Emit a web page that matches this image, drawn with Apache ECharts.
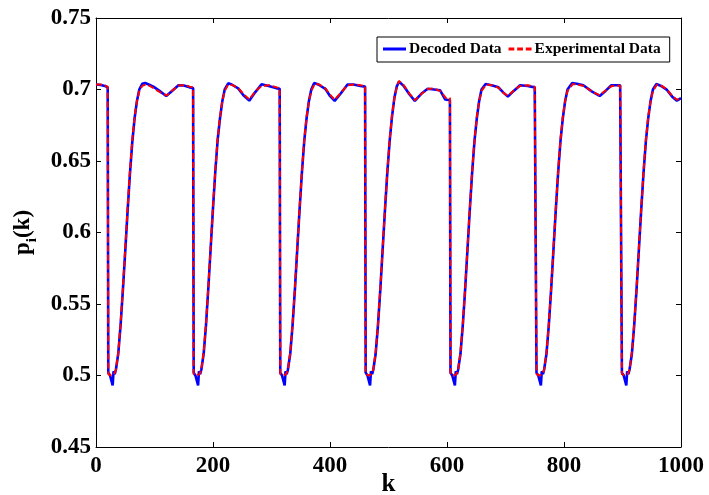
<!DOCTYPE html>
<html>
<head>
<meta charset="utf-8">
<script src="https://cdn.jsdelivr.net/npm/echarts@6/dist/echarts.min.js"></script>
<style>html,body{margin:0;padding:0;background:#fff}#c{width:709px;height:495px}</style>
</head>
<body>
<div id="c"></div>
<script>
// Decoded Data (blue solid)
const kDecoded = [
0,8,15,20,21,24,26.5,28.5,30,32,34,38,42,46,50,54,58,62,66,70,74,79,84,91,98,108,120,130,141,150,160,166,
167,170,172.5,174.5,176,178,180,184,188,192,196,200,204,208,212,216,220,226,232,243,252,262,272,283,295,309,314,
315,318,320.5,322.5,324,326,328,332,336,340,344,348,352,356,360,364,368,373,380,392,400,408,418,430,440,452,460,
461,464,466.5,468.5,470,472,474,478,482,486,490,494,498,502,506,510,514,518,526,536,545,556,567,578,588,597,605,
606,609,611.5,613.5,615,617,619,623,627,631,635,639,643,647,651,655,659,666,676,688,696,704,714,725,738,750,752,
753,756,758.5,760.5,762,764,766,770,774,778,782,786,790,794,798,802,806,814,822,833,848,861,871,881,896,898,
899,902,904.5,906.5,908,910,912,916,920,924,928,932,936,940,944,948,952,958,966,976,985,993,1000
];
const pDecoded = [
0.7035,0.7032,0.7025,0.7015,0.502,0.500,0.499,0.493,0.503,0.501,0.504,0.515,0.535,0.560,0.587,0.615,0.641,0.663,0.680,0.692,0.700,0.7040,0.7045,0.7033,0.7020,0.6992,0.6955,0.6990,0.7030,0.7028,0.7015,0.7010,
0.502,0.500,0.499,0.493,0.503,0.501,0.504,0.515,0.535,0.561,0.589,0.617,0.643,0.665,0.680,0.692,0.700,0.7043,0.7035,0.7008,0.6960,0.6922,0.6980,0.7036,0.7025,0.7008,0.7005,
0.502,0.500,0.499,0.493,0.503,0.501,0.504,0.515,0.535,0.560,0.588,0.616,0.642,0.664,0.680,0.692,0.700,0.7045,0.7035,0.7005,0.6955,0.6920,0.6970,0.7035,0.7035,0.7025,0.7020,
0.502,0.500,0.499,0.493,0.503,0.501,0.504,0.515,0.535,0.560,0.588,0.616,0.642,0.664,0.681,0.694,0.702,0.7055,0.7025,0.6965,0.6920,0.6970,0.7005,0.7000,0.6995,0.6930,0.6925,
0.502,0.500,0.499,0.493,0.503,0.501,0.504,0.515,0.535,0.560,0.588,0.616,0.642,0.664,0.680,0.692,0.700,0.7038,0.7030,0.7015,0.6980,0.6950,0.6990,0.7030,0.7025,0.7015,0.7012,
0.502,0.500,0.499,0.493,0.503,0.501,0.504,0.515,0.535,0.560,0.588,0.616,0.642,0.664,0.680,0.692,0.700,0.7045,0.7040,0.7030,0.6985,0.6955,0.6990,0.7030,0.7030,0.7028,
0.502,0.500,0.499,0.493,0.503,0.501,0.504,0.515,0.535,0.560,0.588,0.616,0.642,0.664,0.680,0.692,0.700,0.7038,0.7025,0.6997,0.6950,0.6922,0.6940
];
// Experimental Data (red dashed)
const kExperimental = [
0,8,15,20,21,26,31,34,38,42,46,50,54,58,62,66,70,74,79,85,92,100,110,121,131,141,152,160,166,
167,172,177,180,184,188,192,196,200,204,208,212,216,220,226,234,244,253,262,272,283,296,309,314,
315,320,325,328,332,336,340,344,348,352,356,360,364,368,374,382,392,400,408,418,430,441,452,460,
461,466,471,474,478,482,486,490,494,498,502,506,510,514,518,526,536,545,556,567,578,590,598,605,
606,611,616,619,623,627,631,635,639,643,647,651,655,659,667,677,688,696,704,714,725,738,750,752,
753,758,763,766,770,774,778,782,786,790,794,798,802,806,815,823,834,848,861,871,882,896,898,
899,904,909,912,916,920,924,928,932,936,940,944,948,952,959,967,976,985,993,1000
];
const pExperimental = [
0.7035,0.7035,0.7028,0.7020,0.501,0.500,0.501,0.504,0.516,0.536,0.561,0.589,0.617,0.643,0.665,0.681,0.692,0.699,0.7025,0.7035,0.7025,0.7005,0.6980,0.6958,0.6995,0.7028,0.7030,0.7020,0.7015,
0.501,0.500,0.501,0.504,0.516,0.536,0.562,0.590,0.618,0.644,0.666,0.681,0.692,0.699,0.7035,0.7030,0.7005,0.6965,0.6930,0.6985,0.7025,0.7030,0.7015,0.7010,
0.501,0.500,0.501,0.504,0.516,0.536,0.561,0.589,0.617,0.643,0.665,0.681,0.692,0.699,0.7040,0.7035,0.7008,0.6965,0.6928,0.6975,0.7030,0.7035,0.7030,0.7025,
0.501,0.500,0.501,0.504,0.516,0.536,0.561,0.589,0.617,0.643,0.665,0.682,0.694,0.7015,0.7060,0.7030,0.6970,0.6925,0.6968,0.7003,0.7008,0.6985,0.6940,0.6940,
0.501,0.500,0.501,0.504,0.516,0.536,0.561,0.589,0.617,0.643,0.665,0.681,0.692,0.699,0.7035,0.7030,0.7012,0.6978,0.6955,0.6993,0.7025,0.7030,0.7020,0.7015,
0.501,0.500,0.501,0.504,0.516,0.536,0.561,0.589,0.617,0.643,0.665,0.681,0.692,0.699,0.7038,0.7035,0.7025,0.6985,0.6960,0.6993,0.7025,0.7028,0.7025,
0.501,0.500,0.501,0.504,0.516,0.536,0.561,0.589,0.617,0.643,0.665,0.681,0.692,0.699,0.7035,0.7025,0.7000,0.6955,0.6928,0.6942
];
const xTicks = [0, 200, 400, 600, 800, 1000];
const yTicks = [0.45, 0.5, 0.55, 0.6, 0.65, 0.7, 0.75];

const FONT = "'Liberation Serif','Times New Roman',serif";
const zip = (ks, ps) => ks.map((k, i) => [k, ps[i]]);

const chart = echarts.init(document.getElementById('c'), null, {renderer: 'canvas'});
const tickLabel = {fontFamily: FONT, fontWeight: 'bold', fontSize: 23, color: '#000'};
const axisCommon = {
  axisLine: {show: true, onZero: false, lineStyle: {color: '#000', width: 1}},
  axisTick: {show: true, inside: true, length: 5, lineStyle: {color: '#000', width: 1}},
  splitLine: {show: false}
};
chart.setOption({
  animation: false,
  backgroundColor: '#fff',
  grid: {left: 96, top: 18, width: 585, height: 429, containLabel: false, outerBoundsMode: 'none'},
  legend: {
    left: 377, top: 37,
    itemWidth: 23, itemHeight: 3, itemGap: 7,
    padding: [4, 9, 5, 6],
    borderColor: '#000', borderWidth: 1, backgroundColor: '#fff', borderRadius: 0,
    textStyle: {fontFamily: FONT, fontWeight: 'bold', fontSize: 15.5, color: '#000', padding: [0, 0, 0, -2]},
    data: [
      {name: 'Decoded Data', icon: 'path://M0,0H23V3H0Z'},
      {name: 'Experimental Data', icon: 'path://M0,0H6V3H0ZM9,0H15V3H9ZM18,0H24V3H18Z'}
    ]
  },
  xAxis: [
    Object.assign({
      type: 'value', min: xTicks[0], max: xTicks[xTicks.length - 1], interval: 200, position: 'bottom',
      name: 'k', nameLocation: 'middle', nameGap: 25, nameMoveOverlap: false,
      nameTextStyle: {fontFamily: FONT, fontWeight: 'bold', fontSize: 25, color: '#000'},
      axisLabel: Object.assign({margin: 8, formatter: v => String(v)}, tickLabel)
    }, axisCommon),
    Object.assign({
      type: 'value', min: 0, max: 1000, interval: 200, position: 'top', axisLabel: {show: false}
    }, axisCommon)
  ],
  yAxis: [
    Object.assign({
      type: 'value', min: yTicks[0], max: yTicks[yTicks.length - 1], interval: 0.05, position: 'left',
      name: '{p|p}{s|i}{p|(k)}', nameLocation: 'middle', nameGap: 56, nameRotate: 90, nameMoveOverlap: false,
      nameTextStyle: {
        rich: {
          p: {fontFamily: FONT, fontWeight: 'bold', fontSize: 23, color: '#000', lineHeight: 28, verticalAlign: 'top'},
          s: {fontFamily: FONT, fontWeight: 'bold', fontSize: 15, color: '#000', lineHeight: 15, verticalAlign: 'top', padding: [13, 0, 0, 0]}
        }
      },
      axisLabel: Object.assign({margin: 5, formatter: v => String(+v.toFixed(2))}, tickLabel)
    }, axisCommon),
    Object.assign({
      type: 'value', min: 0.45, max: 0.75, interval: 0.05, position: 'right', axisLabel: {show: false}
    }, axisCommon)
  ],
  series: [
    {
      name: 'Decoded Data', type: 'line', xAxisIndex: 0, yAxisIndex: 0,
      data: zip(kDecoded, pDecoded), showSymbol: false, symbol: 'none', smooth: false,
      lineStyle: {color: '#0000ff', width: 2.6}, itemStyle: {color: '#0000ff'}, z: 2
    },
    {
      name: 'Experimental Data', type: 'line', xAxisIndex: 0, yAxisIndex: 0,
      data: zip(kExperimental, pExperimental), showSymbol: false, symbol: 'none', smooth: false,
      lineStyle: {color: '#ff0000', width: 2, type: [6, 3]}, itemStyle: {color: '#ff0000'}, z: 3
    }
  ]
});
</script>
</body>
</html>
